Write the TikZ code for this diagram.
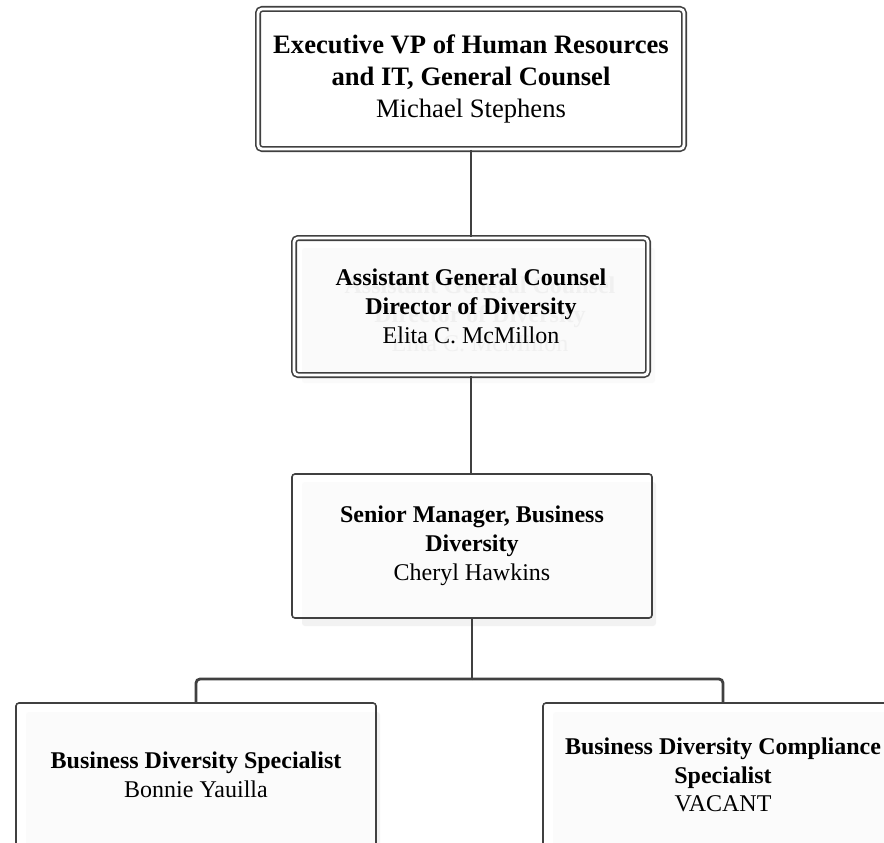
\documentclass[tikz,border=0pt]{standalone}
\usepackage{fontspec}
\setmainfont{Liberation Serif}
\definecolor{linec}{HTML}{404040}
\definecolor{shadowc}{HTML}{F2F2F2}
\definecolor{ghostc}{HTML}{F0F0F0}
\tikzset{
  bigfont/.style={font=\fontsize{26.6}{32}\selectfont},
  smallfont/.style={font=\fontsize{24}{28.8}\selectfont},
  dblbox/.style={draw=linec, line width=1.6pt, double=white, double distance=2.8pt,
    rounded corners=4pt, align=center, inner sep=0pt},
  plainbox/.style={draw=linec, line width=1.6pt, rounded corners=3pt, fill=white, fill opacity=0.75,
    text opacity=1, align=center, inner sep=0pt, smallfont},
  shadowbox/.style={fill=shadowc, rounded corners=3pt},
  conn/.style={draw=linec, line width=2.4pt},
  thinconn/.style={draw=linec, line width=1.3pt},
  barconn/.style={draw=linec, line width=2.8pt, rounded corners=4pt},
}
\begin{document}
\begin{tikzpicture}[x=1pt,y=-1pt]
\clip (0,0) rectangle (884,843);
\fill[white] (0,0) rectangle (884,843);
% shadows
\fill[shadowbox, fill=black!2] (302,248) rectangle (655,383);
\fill[shadowbox] (302,482) rectangle (656,626);
\fill[shadowbox] (26,712) rectangle (380,860);
\fill[shadowbox] (553,712) rectangle (910,860);
% faint ghost text of box 2
\node[smallfont, align=center, text=ghostc] (g2) at (480,314.5)
  {\textbf{Assistant General Counsel}\\\textbf{Director of Diversity}\\Elita C. McMillon};
% boxes
\node[dblbox, bigfont, minimum width=426pt, minimum height=140pt] (b1) at (471,79)
  {\textbf{Executive VP of Human Resources}\\\textbf{and IT, General Counsel}\\Michael Stephens};
\node[dblbox, smallfont, minimum width=354pt, minimum height=137pt] (b2) at (471,306.5)
  {\textbf{Assistant General Counsel}\\\textbf{Director of Diversity}\\Elita C. McMillon};
\node[plainbox, minimum width=360pt, minimum height=144pt] (b3) at (472,546)
  {\textbf{Senior Manager, Business}\\\textbf{Diversity}\\Cheryl Hawkins};
\node[plainbox, minimum width=360pt, minimum height=144pt] (c1) at (196,775)
  {\textbf{Business Diversity Specialist}\\Bonnie Yauilla};
\node[plainbox, minimum width=360pt, minimum height=144pt] (c2) at (723,775)
  {\textbf{Business Diversity Compliance}\\\textbf{Specialist}\\VACANT};
% connectors
\draw[conn] (b1.south) -- (b2.north);
\draw[thinconn] (b2.south) -- (b2.south |- b3.north);
\coordinate (j) at (472,679);
\draw[barconn] (b3.south) -- (j);
\draw[barconn] (j) -| (c1.north);
\draw[barconn] (j) -| (c2.north);
\end{tikzpicture}
\end{document}
